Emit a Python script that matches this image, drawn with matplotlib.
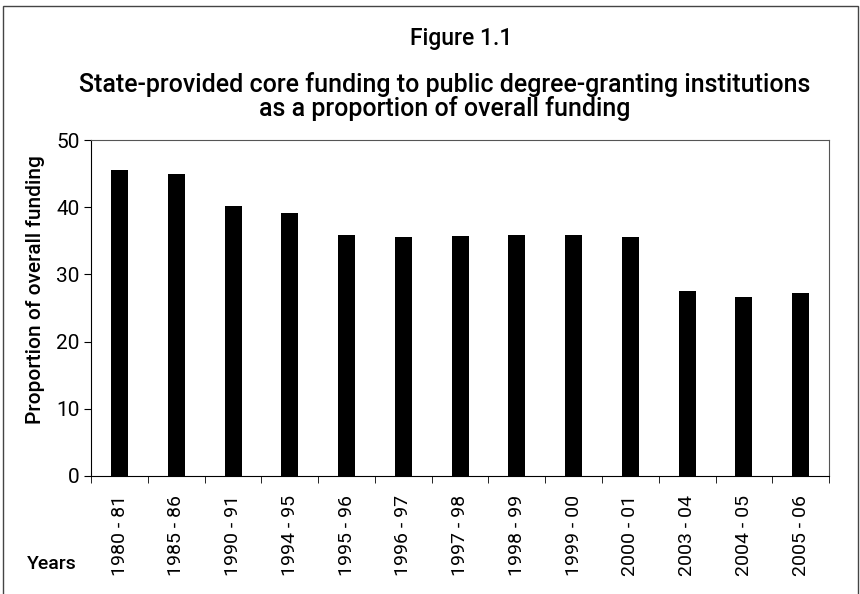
import matplotlib.pyplot as plt
import numpy as np
from matplotlib.patches import Rectangle

years = ['1980 - 81', '1985 - 86', '1990 - 91', '1994 - 95', '1995 - 96',
         '1996 - 97', '1997 - 98', '1998 - 99', '1999 - 00', '2000 - 01',
         '2003 - 04', '2004 - 05', '2005 - 06']
share = [45.5, 44.9, 40.2, 39.2, 35.8, 35.6, 35.7, 35.9, 35.8, 35.6,
         27.6, 26.7, 27.2]

plt.rcParams['font.family'] = ['Roboto', 'DejaVu Sans']

fig = plt.figure(figsize=(8.6, 5.94), dpi=100)
ax = fig.add_axes([0.106, 0.199, 0.858, 0.565])

x = np.arange(len(years))
ax.bar(x, share, width=0.3, color='black')
ax.set_xlim(-0.5, len(years) - 0.5)
ax.set_ylim(0, 50)
ax.set_yticks([0, 10, 20, 30, 40, 50])
ax.tick_params(axis='y', labelsize=15, direction='out', length=5)

ax.set_xticks(x)
ax.set_xticklabels(years, rotation=90, fontsize=14)
ax.tick_params(axis='x', length=0, pad=14)
ax.set_xticks(np.arange(-0.5, len(years)), minor=True)
ax.tick_params(axis='x', which='minor', length=5, direction='out')

for s in ['top', 'right']:
    ax.spines[s].set_color('#555555')

ax.set_ylabel('Proportion of overall funding', fontsize=15, fontweight='medium')
ax.yaxis.set_label_coords(-0.062, 0.555)

fig.text(0.536, 0.935, 'Figure 1.1', ha='center', va='center', fontsize=16.5, fontweight='medium')
fig.text(0.517, 0.837,
         'State-provided core funding to public degree-granting institutions\nas a proportion of overall funding',
         ha='center', va='center', fontsize=18, fontweight='medium', linespacing=0.95)
fig.text(0.060, 0.05, 'Years', ha='center', va='center', fontsize=14, fontweight='medium')

fig.add_artist(Rectangle((0.003, -0.01), 0.995, 1.0, transform=fig.transFigure,
                         fill=False, edgecolor='#444444', lw=1))

plt.savefig('out.png', dpi=100)
